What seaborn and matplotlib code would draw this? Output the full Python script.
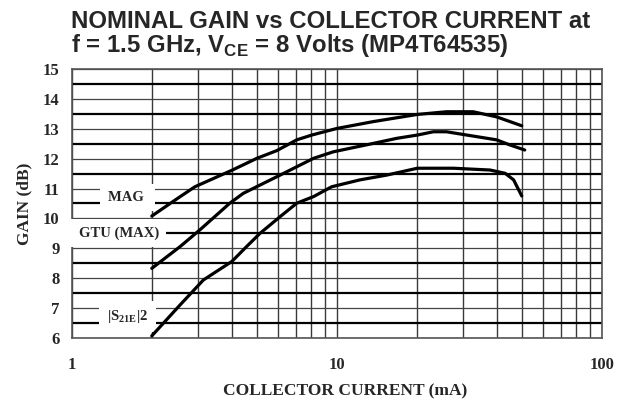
import numpy as np
import pandas as pd
import matplotlib
matplotlib.use("Agg")
import matplotlib.pyplot as plt
import seaborn as sns

# values (collector current in mA, gain in dB)
current_mag = [2.0, 2.56, 2.91, 4.03, 4.98, 5.93, 7.05, 8.03, 9.98, 13.7, 20.1, 25.9, 32.6, 40.0, 49.8]
gain_mag = [10.08, 10.73, 11.06, 11.62, 12.01, 12.27, 12.63, 12.79, 13.01, 13.24, 13.48, 13.57, 13.57, 13.40, 13.10]

current_gtu = [2.0, 2.56, 3.04, 3.94, 4.43, 5.05, 6.10, 7.05, 8.15, 9.69, 13.7, 16.8, 20.1, 23.1, 25.9, 30.9, 40.0, 44.9, 51.1]
gain_gtu = [8.33, 9.06, 9.62, 10.51, 10.84, 11.09, 11.45, 11.73, 12.01, 12.23, 12.51, 12.68, 12.79, 12.90, 12.90, 12.79, 12.63, 12.46, 12.29]

current_s21 = [2.0, 2.56, 3.13, 4.01, 4.56, 5.12, 6.10, 7.05, 8.15, 9.55, 12.2, 15.4, 20.1, 22.5, 27.5, 37.8, 43.1, 46.4, 49.8]
gain_s21 = [6.07, 7.11, 7.94, 8.56, 9.06, 9.50, 10.06, 10.51, 10.73, 11.06, 11.29, 11.45, 11.68, 11.68, 11.68, 11.62, 11.51, 11.29, 10.75]

curve_names = ["MAG ", "GTU (MAX)", "|S$_\\mathregular{21E}$|2 "]
label_x = [1.62, 1.50, 1.62]
label_y = [10.70, 9.50, 6.72]

x_ticks = [1, 10, 100]
y_ticks = list(range(6, 16))

df = pd.concat([
    pd.DataFrame({"current": current_mag, "gain": gain_mag, "curve": "MAG"}),
    pd.DataFrame({"current": current_gtu, "gain": gain_gtu, "curve": "GTU"}),
    pd.DataFrame({"current": current_s21, "gain": gain_s21, "curve": "S21"}),
])

sns.set_style("white")
plt.rcParams["font.family"] = ["Liberation Serif", "DejaVu Serif"]
plt.rcParams["font.weight"] = "bold"

fig = plt.figure(figsize=(6.31, 4.04), dpi=100)
ax = fig.add_axes([72 / 631, 1 - 338 / 404, 530 / 631, 269 / 404])

sns.lineplot(data=df, x="current", y="gain", hue="curve", units="curve", estimator=None,
             sort=False, palette=["black"] * 3, linewidth=2.3, legend=False, ax=ax, zorder=4)

ax.set_xscale("log")
ax.set_xlim(1, 100)
ax.set_ylim(6, 15)
ax.set_xticks(x_ticks)
ax.set_xticklabels([str(t) for t in x_ticks])
ax.set_xticks([m * d for d in (1, 10) for m in range(2, 10)], minor=True)
ax.set_xticklabels([], minor=True)
ax.set_yticks(y_ticks)
ax.set_yticklabels([str(t) for t in y_ticks])
ax.set_yticks(np.arange(6.5, 15, 1.0), minor=True)

ax.grid(which="both", axis="x", color="#3a3a3a", lw=1.0)
ax.grid(which="major", axis="y", color="#444444", lw=0.9)
ax.grid(which="minor", axis="y", color="black", lw=1.6)
ax.set_axisbelow(True)
ax.tick_params(which="both", length=0)
ax.tick_params(axis="y", pad=9, labelsize=12)
ax.tick_params(axis="x", pad=14, labelsize=12)
for s in ax.spines.values():
    s.set_color("#555555")
    s.set_linewidth(1.2)

ax.set_xlabel("COLLECTOR CURRENT (mA)", fontsize=12.5, fontweight="bold")
ax.set_ylabel("GAIN (dB)", fontsize=12.5, fontweight="bold")
ax.xaxis.set_label_coords(0.515, -0.17)
ax.yaxis.set_label_coords(-0.075, 0.5)

for name, lx, ly in zip(curve_names, label_x, label_y):
    ax.text(lx, ly, name, ha="center", va="center", fontsize=10.5, fontweight="bold", zorder=3,
            bbox=dict(boxstyle="square,pad=0.5", facecolor="white", edgecolor="none"))

title_font = dict(family=["Liberation Sans", "DejaVu Sans"], fontweight="bold", fontsize=17.3)
fig.text(71 / 631, 1 - 28 / 404, "NOMINAL GAIN vs COLLECTOR CURRENT at", ha="left", va="baseline", **title_font)
fig.text(71 / 631, 1 - 52 / 404, "f = 1.5 GHz, V$_\\mathregular{CE}$ = 8 Volts (MP4T64535)",
         ha="left", va="baseline", **title_font)

fig.savefig("out.png", dpi=100, facecolor="white")
